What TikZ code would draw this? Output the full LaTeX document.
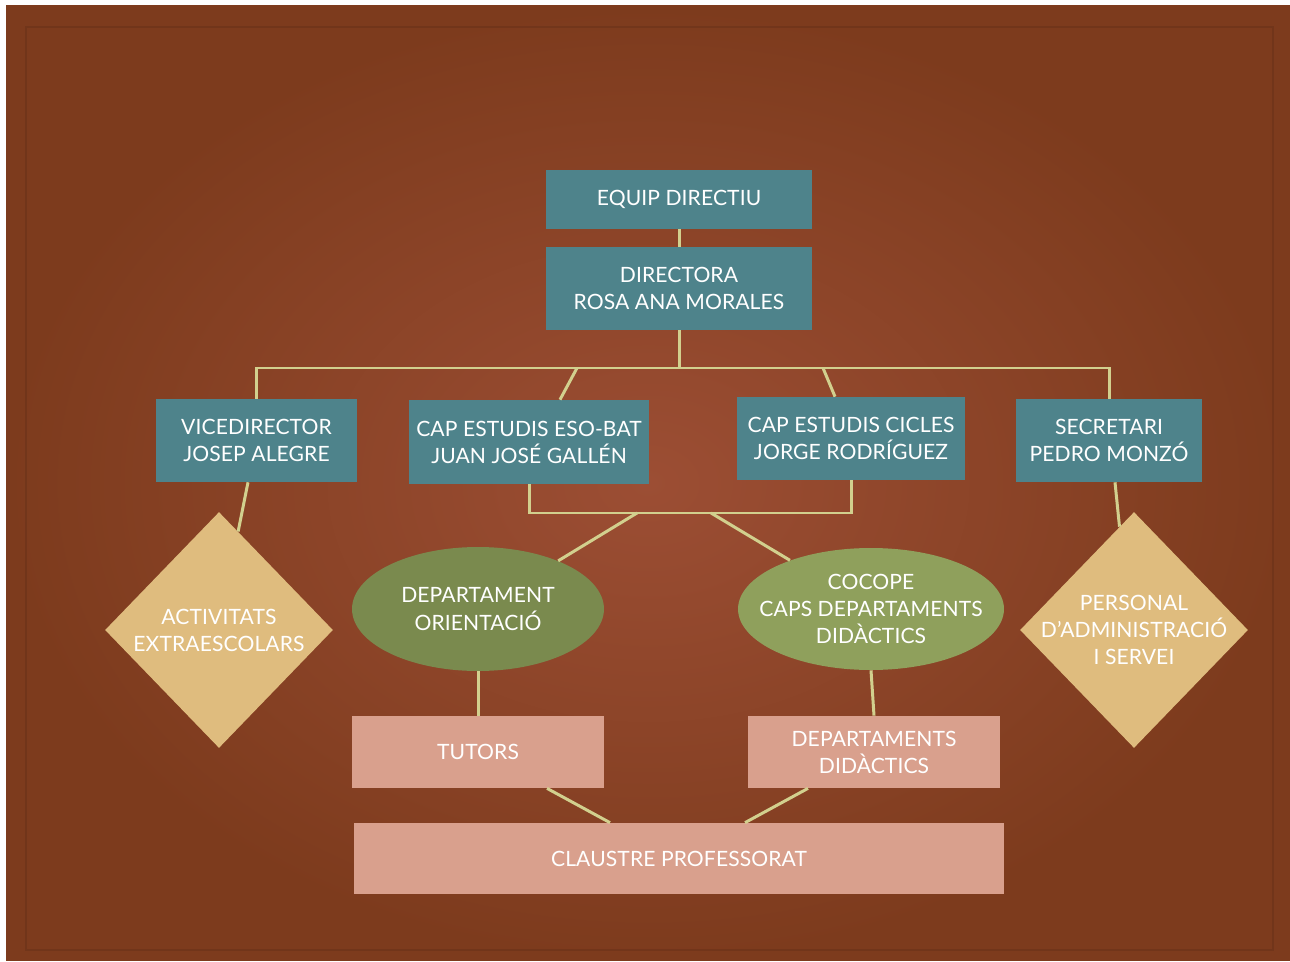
\documentclass[tikz,border=0pt]{standalone}
\usepackage{fontspec}
\setmainfont[LetterSpace=0.5]{Lato}
\usetikzlibrary{shapes.geometric}

\definecolor{fons}{HTML}{8A4226}
\definecolor{fonsclar}{HTML}{9C4E34}
\definecolor{fonsfosc}{HTML}{7D3B1D}
\definecolor{blau}{HTML}{4E838B}
\definecolor{verdfosc}{HTML}{7A8A4E}
\definecolor{verdclar}{HTML}{8FA05C}
\definecolor{ocre}{HTML}{DFBC7E}
\definecolor{rosa}{HTML}{D9A08D}
\definecolor{linia}{HTML}{D2D08E}

\tikzset{
  caixa/.style={rectangle, fill=blau, text=white, align=center, inner sep=2pt, font=\fontsize{12}{15.4}\selectfont},
  ovalfosc/.style={ellipse, fill=verdfosc, inner sep=0pt},
  ovalclar/.style={ellipse, fill=verdclar, inner sep=0pt},
  rombe/.style={diamond, fill=ocre, inner sep=0pt},
  rosacaixa/.style={rectangle, fill=rosa, text=white, align=center, inner sep=2pt, font=\fontsize{12}{15.4}\selectfont},
  lletra/.style={text=white, align=center, font=\fontsize{12}{15.4}\selectfont},
  enllac/.style={draw=linia, line width=1.7pt}
}

\begin{document}
\begin{tikzpicture}[x=0.02cm,y=-0.02cm]
        % fons
        \useasboundingbox (0,0) rectangle (1290,962);
        \fill[white] (0,0) rectangle (1290,962);
        \shade[inner color=fonsclar, outer color=fonsfosc] (6,6) rectangle (1290,960);
        \draw[fonsfosc!85!black, line width=0.8pt, opacity=0.6] (26,27) rectangle (1273,950);

        % direccio
        \node[caixa, minimum width=5.32cm, minimum height=1.18cm] (equip) at (679,199.5) {EQUIP DIRECTIU};
        \node[caixa, minimum width=5.32cm, minimum height=1.66cm] (directora) at (679,288.5) {DIRECTORA\\ROSA ANA MORALES};

        \node[caixa, minimum width=4.02cm, minimum height=1.66cm] (vice) at (256.5,440.5) {VICEDIRECTOR\\JOSEP ALEGRE};
        \node[caixa, minimum width=4.8cm, minimum height=1.68cm] (esobat) at (529,442) {CAP ESTUDIS ESO-BAT\\JUAN JOSÉ GALLÉN};
        \node[caixa, minimum width=4.56cm, minimum height=1.66cm] (cicles) at (851,438.5) {CAP ESTUDIS CICLES\\JORGE RODRÍGUEZ};
        \node[caixa, minimum width=3.72cm, minimum height=1.66cm] (secretari) at (1109,440.5) {SECRETARI\\PEDRO MONZÓ};

        % ovals i rombes
        \node[ovalfosc, minimum width=5.04cm, minimum height=2.48cm, label={[lletra]center:DEPARTAMENT\\ORIENTACIÓ}] (orientacio) at (478,609) {};
        \node[ovalclar, minimum width=5.32cm, minimum height=2.44cm, label={[lletra]center:COCOPE\\CAPS DEPARTAMENTS\\DIDÀCTICS}] (cocope) at (871,609) {};
        \node[rombe, minimum width=4.56cm, minimum height=4.72cm, label={[lletra]center:ACTIVITATS\\EXTRAESCOLARS}] (activitats) at (219,630) {};
        \node[rombe, minimum width=4.56cm, minimum height=4.72cm, label={[lletra]center:PERSONAL\\D’ADMINISTRACIÓ\\I SERVEI}] (personal) at (1134,630) {};

        % professorat
        \node[rosacaixa, minimum width=5.04cm, minimum height=1.44cm] (tutors) at (478,752) {TUTORS};
        \node[rosacaixa, minimum width=5.04cm, minimum height=1.44cm] (departaments) at (874,752) {DEPARTAMENTS\\DIDÀCTICS};
        \node[rosacaixa, minimum width=13cm, minimum height=1.42cm] (claustre) at (679,858.5) {CLAUSTRE PROFESSORAT};

        % linies
        \coordinate (barra) at (679,368);
        \coordinate (barraeso) at (577,368);
        \coordinate (barracicles) at (823,368);
        \coordinate (sota) at (690,513);
        \coordinate (sotaesq) at (637,513);
        \coordinate (sotadre) at (711,513);

        \draw[enllac] (equip.south) -- (directora.north);
        \draw[enllac] (directora.south) -- (barra);
        \draw[enllac] (vice.north) |- (barra) -| (secretari.north);
        \draw[enllac] (barraeso) -- ([xshift=0.62cm]esobat.north);
        \draw[enllac] (barracicles) -- ([xshift=-0.32cm]cicles.north);
        \draw[enllac] (esobat.south) |- (sota) -| (cicles.south);
        \draw[enllac] (sotaesq) -- (orientacio.31);
        \draw[enllac] (sotadre) -- (cocope.149);
        \draw[enllac] ([xshift=-0.17cm]vice.south) -- (activitats.79);
        \draw[enllac] ([xshift=0.12cm]secretari.south) -- (personal.98);
        \draw[enllac] (orientacio.south) -- (tutors.north);
        \draw[enllac] (cocope.south) -- (departaments.north);
        \draw[enllac] ([xshift=1.38cm]tutors.south) -- ([xshift=-1.38cm]claustre.north);
        \draw[enllac] ([xshift=-1.32cm]departaments.south) -- ([xshift=1.32cm]claustre.north);
\end{tikzpicture}
\end{document}
